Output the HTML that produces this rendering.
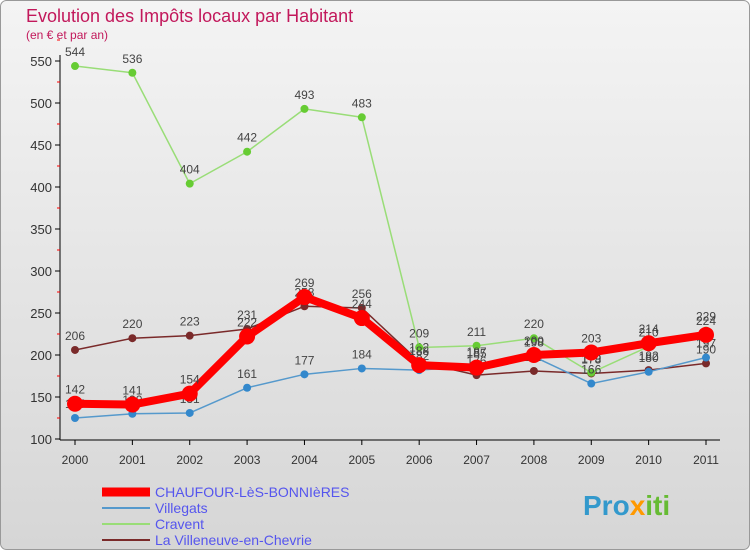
<!DOCTYPE html>
<html><head><meta charset="utf-8"><style>
body{margin:0;width:750px;height:550px;overflow:hidden;font-family:"Liberation Sans",sans-serif}
</style></head><body>
<svg id="c" width="750" height="550" xmlns="http://www.w3.org/2000/svg">
<defs><linearGradient id="bg" x1="0" y1="0" x2="0" y2="1"><stop offset="0" stop-color="#f4f4f4"/><stop offset="1" stop-color="#d6d6d6"/></linearGradient></defs>
<rect x="0.5" y="0.5" width="749" height="549" rx="6" fill="url(#bg)" stroke="#999"/>
<text x="26" y="22" font-size="18" fill="#c2185b">Evolution des Impôts locaux par Habitant</text>
<text x="26" y="39" font-size="12" fill="#c2185b">(en € et par an)</text>
<g id="axes"></g><g id="series"></g><g id="legend"></g>
<text x="583" y="515" font-size="28" font-weight="bold" fill="#3399cc">Pro<tspan fill="#ff9900">x</tspan><tspan fill="#66bb33">iti</tspan></text>
</svg>
<script>
const years=["2000","2001","2002","2003","2004","2005","2006","2007","2008","2009","2010","2011"];
const yTicks=[100,150,200,250,300,350,400,450,500,550];
const chaufour=[142,141,154,222,269,244,188,185,200,203,214,224];
const villegats=[125,130,131,161,177,184,182,187,198,166,180,197];
const cravent=[544,536,404,442,493,483,209,211,220,179,210,229];
const villeneuve=[206,220,223,231,258,256,192,176,181,178,182,190];
const NS="http://www.w3.org/2000/svg";
const x=i=>75+i*(706-75)/(years.length-1);
const y=v=>439-(v-100)*(439-61)/450;
function mk(tag,attrs,parent){const e=document.createElementNS(NS,tag);for(const k in attrs)e.setAttribute(k,attrs[k]);parent.appendChild(e);return e;}
const ax=document.getElementById('axes');
let a=mk('line',{x1:60,y1:55,x2:60,y2:440,stroke:'#000'},ax);


a=mk('line',{x1:60,y1:440,x2:720,y2:440,stroke:'#000'},ax);


yTicks.forEach(v=>{
  mk('line',{x1:55,y1:y(v),x2:60,y2:y(v),stroke:'#000'},ax);
  mk('line',{x1:57,y1:y(v+25),x2:60,y2:y(v+25),stroke:'#f00'},ax);
  const t=mk('text',{x:52,y:y(v)+5,'font-size':13,'text-anchor':'end',fill:'#333'},ax);
  t.textContent=v;
  
  
});
years.forEach((yr,i)=>{
  mk('line',{x1:x(i),y1:440,x2:x(i),y2:445,stroke:'#000'},ax);
  const t=mk('text',{x:x(i),y:464,'font-size':12,'text-anchor':'middle',fill:'#333'},ax);
  t.textContent=yr;
  
  
});
const series=[
 {name:'La Villeneuve-en-Chevrie',data:villeneuve,color:'#7a2a2a',w:1.5,r:4,id:'villeneuve'},
 {name:'Cravent',data:cravent,color:'#99dd77',w:1.5,r:4,id:'cravent',dot:'#66cc33'},
 {name:'Villegats',data:villegats,color:'#5599cc',w:1.5,r:4,id:'villegats',dot:'#3388cc'},
 {name:'CHAUFOUR-LèS-BONNIèRES',data:chaufour,color:'#ff0000',w:8,r:8,id:'chaufour'}];
const sg=document.getElementById('series');
series.forEach(s=>{
  const g=mk('g',{},sg);
  
  
  const p=mk('polyline',{points:s.data.map((v,i)=>x(i)+','+y(v)).join(' '),fill:'none',stroke:s.color,'stroke-width':s.w,'stroke-linejoin':'round'},g);
  
  
  s.data.forEach((v,i)=>{
    const c=mk('circle',{cx:x(i),cy:y(v),r:s.r,fill:s.dot||s.color},g);
    
    
    const t=mk('text',{x:x(i),y:y(v)-10,'font-size':12,'text-anchor':'middle',fill:'#444'},g);
    t.textContent=v;
    
    
  });
});
const lg=document.getElementById('legend');
[series[3],series[2],series[1],series[0]].forEach((s,k)=>{
  const yy=492+k*16;
  const g=mk('g',{},lg);
  
  
  mk('line',{x1:102,y1:yy,x2:150,y2:yy,stroke:s.color,'stroke-width':s.id==='chaufour'?9:2},g);
  const t=mk('text',{x:155,y:yy+5,'font-size':14,fill:'#5555ee'},g);
  t.textContent=s.name;
  
  
});
</script>
</body></html>
